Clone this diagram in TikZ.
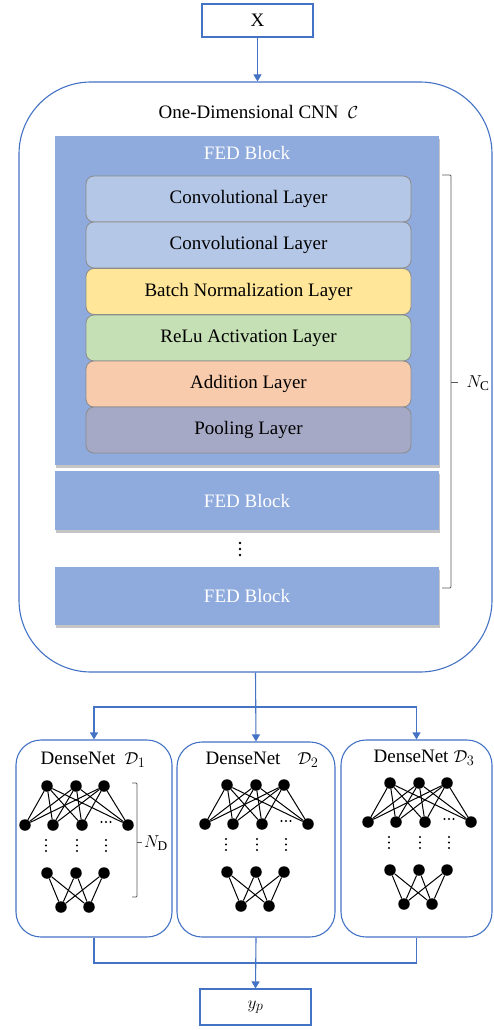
\documentclass[tikz,border=0pt]{standalone}
\usepackage{fontspec}
\setmainfont{Liberation Serif}
\usetikzlibrary{arrows.meta,shadows,calc}
\definecolor{blueline}{HTML}{4472C4}
\definecolor{fedfill}{HTML}{8FAADC}
\definecolor{convfill}{HTML}{B4C7E7}
\definecolor{bnfill}{HTML}{FFE699}
\definecolor{relufill}{HTML}{C5E0B4}
\definecolor{addfill}{HTML}{F8CBAD}
\definecolor{poolfill}{HTML}{A5A9C6}
\definecolor{brk}{HTML}{595959}
\definecolor{layerline}{HTML}{8C8C8C}
\newcommand\dnet[3]{%
\begin{scope}[shift={(#2,#3)}, name prefix=#1-]
  \foreach \x/\n in {47/a,76/b,104/c} \node[nn] (t\n) at (\x,786) {};
  \foreach \x/\n in {25/a,53/b,82/c,128/d} \node[nn] (s\n) at (\x,825) {};
  \foreach \x/\n in {47/a,76/b,104/c} \node[nn] (r\n) at (\x,873) {};
  \foreach \x/\n in {61/a,89/b} \node[nn] (b\n) at (\x,907) {};
  \foreach \p in {a,b,c} {\foreach \q in {a,b,c,d} {\draw[edge] (t\p) -- (s\q);}}
  \foreach \p in {a,b,c} {\foreach \q in {a,b} {\draw[edge] (r\p) -- (b\q);}}
  \foreach \x in {101.5,106,110.5} \fill (\x,822) circle (1.1);
  \foreach \x in {46,77,106} {\foreach \y in {840,845.5,851} \fill (\x,\y) circle (1.1);}
\end{scope}}
\begin{document}
\begin{tikzpicture}[x=1pt,y=-1pt,font=\fontsize{19}{22}\selectfont,
  box/.style={draw=blueline, line width=1.1pt, fill=white, inner sep=0pt},
  fedbox/.style={fill=fedfill, draw=none, text=white, inner sep=0pt,
    drop shadow={shadow xshift=1pt, shadow yshift=-2.5pt, opacity=0.45, fill=black!50}},
  layer/.style={draw=layerline, line width=0.8pt, rounded corners=8pt, minimum width=325pt, minimum height=46pt, inner sep=0pt},
  arr/.style={draw=blueline, line width=1.1pt, -{Triangle[width=8pt,length=7pt]}},
  ln/.style={draw=blueline, line width=1.1pt},
  nn/.style={circle, fill=black, minimum size=11.5pt, inner sep=0pt},
  edge/.style={draw=black, line width=1pt},
  brkline/.style={draw=brk, line width=0.8pt, rounded corners=1pt}]
\useasboundingbox (0,0) rectangle (493,1030);

% input
\node[box, minimum width=111pt, minimum height=33pt] (X) at (257.5,20.5) {X};

% CNN container
\node[box, rounded corners=72pt, minimum width=473pt, minimum height=590pt] (cnn) at (255.5,377) {};
\node (cnnt) at (258.5,112) {One-Dimensional CNN~~$\mathcal{C}$};

% FED blocks
\node[fedbox, minimum width=384pt, minimum height=329pt] (fed1) at (247,300.5) {};
\node[text=white] (fed1t) at (247,153) {FED Block};
\node[layer, fill=convfill] (l1) at (248.5,199) {Convolutional Layer};
\node[layer, fill=convfill] (l2) at (248.5,245) {Convolutional Layer};
\node[layer, fill=bnfill] (l3) at (248.5,291.5) {Batch Normalization Layer};
\node[layer, fill=relufill] (l4) at (248.5,338) {ReLu Activation Layer};
\node[layer, fill=addfill] (l5) at (248.5,384) {Addition Layer};
\node[layer, fill=poolfill] (l6) at (248.5,430) {Pooling Layer};
\node[fedbox, minimum width=384pt, minimum height=59pt] (fed2) at (247,500.5) {FED Block};
\foreach \y in {543,549,555} \fill (240,\y) circle (1.3);
\node[fedbox, minimum width=384pt, minimum height=58pt] (fed3) at (247,596) {FED Block};

% N_C bracket
\draw[brkline] (442,175) -- (451,175) -- (451,588) -- (442,588);
\draw[brkline] (451,382) -- (458,382);
\node (nc) at (478,383) {$N_\mathrm{C}$};

% DenseNet boxes
\node[box, rounded corners=25pt, minimum width=156pt, minimum height=197pt] (D1) at (94,838.5) {};
\node[box, rounded corners=25pt, minimum width=158pt, minimum height=195pt] (D2) at (256,839.5) {};
\node[box, rounded corners=25pt, minimum width=151pt, minimum height=197pt] (D3) at (416.5,838.5) {};
\node (D1t) at (93,760) {DenseNet\hspace{9pt}$\mathcal{D}_1$};
\node (D2t) at (262,760) {DenseNet\hspace{17pt}$\mathcal{D}_2$};
\node (D3t) at (424,758) {DenseNet\hspace{5pt}$\mathcal{D}_3$};
\dnet{n1}{0}{0}
\dnet{n2}{180}{-1}
\dnet{n3}{343}{-3}

% N_D bracket
\draw[brkline] (132,783) -- (137,783) -- (137,897) -- (132,897);
\draw[brkline] (137,842) -- (142,842);
\node (nd) at (156,843) {$N_\mathrm{D}$};

% output
\node[box, minimum width=111pt, minimum height=36pt] (yp) at (255.5,1007) {$y_p$};

% connectors
\coordinate (jt) at (256,707);
\coordinate (jb) at (256,963);
\draw[arr] (X.south) -- (X.south |- cnn.north);
\draw[arr] (cnn.south) -- (D2.north);
\draw[arr] (jt) -| (D1.north);
\draw[arr] (jt) -| (D3.north);
\draw[ln] (D1.south) |- (jb) -| (D3.south);
\draw[arr] (D2.south) -- (yp.north);
\end{tikzpicture}
\end{document}
